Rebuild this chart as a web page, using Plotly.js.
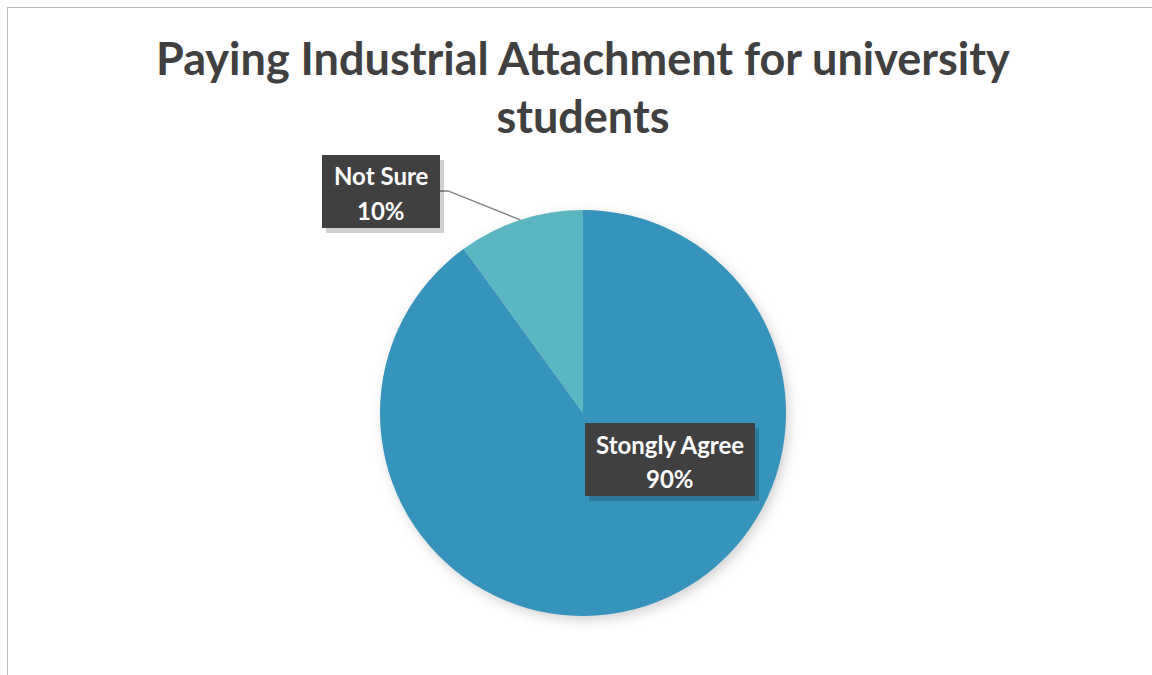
<!DOCTYPE html>
<html>
<head>
<meta charset="utf-8">
<script src="https://cdn.plot.ly/plotly-3.0.1.min.js"></script>
<style>
html,body{margin:0;padding:0;background:#fff;overflow:hidden;}
#wrap{position:relative;width:1152px;height:675px;}
#chart{width:1152px;height:675px;}
#frame{position:absolute;left:7px;top:7px;width:1160px;height:680px;border-left:1px solid #bcbcbc;border-top:1px solid #bcbcbc;pointer-events:none;}
.pielayer{filter:drop-shadow(3px 4px 6px rgba(0,0,0,0.18));}
</style>
</head>
<body>
<div id="wrap"><div id="chart"></div><div id="frame"></div></div>
<script>
const categories = ['Stongly Agree', 'Not Sure'];
const values = [90, 10];
const colors = ['#3593BC', '#5BB6C1'];
const titleText = 'Paying Industrial Attachment for university<br>students';

const W = 1152, H = 675;
const cx = 583, cy = 413, R = 203;
const dom = {
  x: [(cx - R) / W, (cx + R) / W],
  y: [1 - (cy + R) / H, 1 - (cy - R) / H]
};

const total = values.reduce((a, b) => a + b, 0);
const startFrac = values[0] / total;
const midFrac = startFrac + values[1] / total / 2;
const ang = midFrac * 2 * Math.PI;
const ex = cx + R * Math.sin(ang), ey = cy - R * Math.cos(ang);
const px = x => x / W, py = y => 1 - y / H;
const pct = v => Math.round(v / total * 100) + '%';

const data = [{
  type: 'pie',
  labels: categories,
  values: values,
  sort: false,
  direction: 'clockwise',
  rotation: 0,
  marker: {colors: colors, line: {width: 0}},
  textinfo: 'none',
  hoverinfo: 'skip',
  showlegend: false,
  domain: dom
}];

const boxFont = {family: 'Lato, "Open Sans", sans-serif', size: 24, color: '#ffffff', weight: 'bold'};
const shapes = [];
const annotations = [];
function label(name, pctText, x0, y0, x1, y1, l1, l2) {
  shapes.push({type: 'rect', xref: 'paper', yref: 'paper', x0: px(x0 + 4), x1: px(x1 + 4), y0: py(y0 + 5), y1: py(y1 + 5),
    fillcolor: 'rgba(0,0,0,0.18)', line: {width: 0}, layer: 'above'});
  shapes.push({type: 'rect', xref: 'paper', yref: 'paper', x0: px(x0), x1: px(x1), y0: py(y0), y1: py(y1),
    fillcolor: '#404040', line: {width: 0}, layer: 'above'});
  const xc = px((x0 + x1) / 2);
  annotations.push({xref: 'paper', yref: 'paper', x: xc, y: py(l1), xanchor: 'center', yanchor: 'middle',
    text: name, showarrow: false, font: boxFont});
  annotations.push({xref: 'paper', yref: 'paper', x: xc, y: py(l2), xanchor: 'center', yanchor: 'middle',
    text: pctText, showarrow: false, font: boxFont});
}
label(categories[1], pct(values[1]), 322, 155, 440, 228, 176, 210);
label(categories[0], pct(values[0]), 585, 423, 755, 496, 445, 478);

shapes.unshift({
  type: 'path', xref: 'paper', yref: 'paper',
  path: `M ${px(440)} ${py(191)} L ${px(448)} ${py(191)} L ${px(ex)} ${py(ey)}`,
  line: {color: '#808080', width: 1.3}
});

const layout = {
  width: W, height: H,
  margin: {l: 0, r: 0, t: 0, b: 0},
  paper_bgcolor: '#ffffff',
  title: {
    text: titleText,
    font: {family: 'Lato, "Open Sans", sans-serif', size: 45, color: '#404040', weight: 'bold'},
    x: 0.506, xanchor: 'center',
    y: 0.889, yanchor: 'middle'
  },
  shapes: shapes,
  annotations: annotations
};

Plotly.newPlot('chart', data, layout, {staticPlot: true, displayModeBar: false});
</script>
</body>
</html>
